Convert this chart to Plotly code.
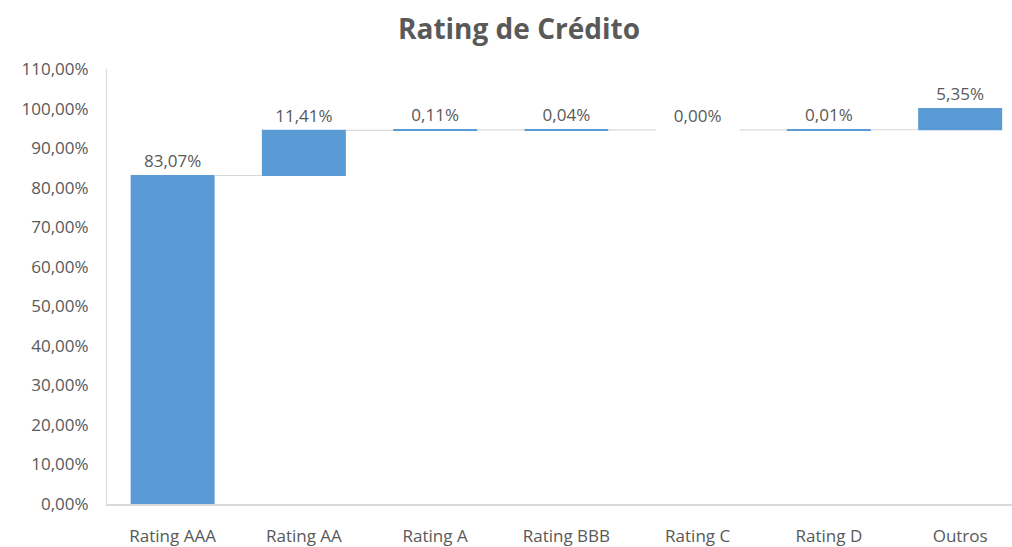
import plotly.graph_objects as go

categorias = ["Rating AAA", "Rating AA", "Rating A", "Rating BBB", "Rating C", "Rating D", "Outros"]
participacao = [83.07, 11.41, 0.11, 0.04, 0.00, 0.01, 5.35]

rotulos = [f"{v:.2f}".replace(".", ",") + "%" for v in participacao]

cinza = "#595959"
azul = "#5b9bd5"
fonte = "Open Sans"

fig = go.Figure(
    go.Waterfall(
        x=categorias,
        y=participacao,
        measure=["relative"] * len(participacao),
        text=rotulos,
        textposition="outside",
        textfont=dict(family=fonte, size=17, color=cinza),
        cliponaxis=False,
        width=0.64,
        increasing=dict(marker=dict(color=azul, line=dict(width=0))),
        decreasing=dict(marker=dict(color=azul, line=dict(width=0))),
        connector=dict(mode="between", line=dict(color="#d9d9d9", width=1.2)),
        showlegend=False,
    )
)

fig.update_layout(
    width=1012,
    height=547,
    paper_bgcolor="white",
    plot_bgcolor="white",
    separators=",.",
    margin=dict(l=107, r=0, t=69, b=40),
    title=dict(
        text="<b>Rating de Crédito</b>",
        font=dict(family=fonte, size=28, color=cinza),
        x=519 / 1012,
        xref="container",
        xanchor="center",
        y=1 - 29 / 547,
        yref="container",
        yanchor="middle",
    ),
    font=dict(family=fonte, color=cinza),
)

fig.update_yaxes(
    range=[0, 110],
    dtick=10,
    tickformat=".2f",
    ticksuffix="%",
    showgrid=False,
    zeroline=False,
    showline=True,
    linecolor="#d9d9d9",
    linewidth=1,
    ticks="",
    ticklabelstandoff=14,
    tickfont=dict(family=fonte, size=17, color=cinza),
)

fig.update_xaxes(
    range=[-0.5, 6.395],
    showgrid=False,
    showline=True,
    linecolor="#d9d9d9",
    linewidth=1.5,
    ticks="",
    ticklabelstandoff=16,
    tickfont=dict(family=fonte, size=17, color=cinza),
)

fig.write_html("out.html")
